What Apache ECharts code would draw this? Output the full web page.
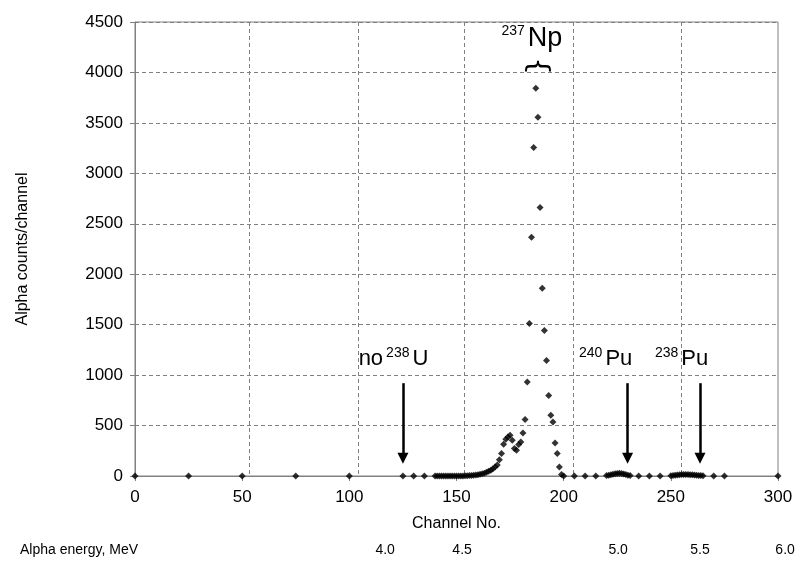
<!DOCTYPE html>
<html lang="en">
<head>
<meta charset="UTF-8">
<title>Alpha spectrum</title>
<script src="https://cdn.jsdelivr.net/npm/echarts@6/dist/echarts.min.js"></script>
<style>
    html, body { margin: 0; padding: 0; background: #fff; }
    #chart { width: 803px; height: 572px; }
</style>
</head>
<body>
<div id="chart"></div>
<script>
    // channel numbers that carry a point, and the counts
    const channels = [
        0, 25, 50, 75, 100, 125, 130, 135,
        140, 141, 142, 143, 144, 145, 146, 147, 148, 149,
        150, 151, 152, 153, 154, 155, 156, 157, 158, 159,
        160, 161, 162, 163, 164, 165, 166, 167, 168, 169,
        170, 171, 172, 173, 174, 175, 176, 177, 178, 179,
        180, 181, 182, 183, 184, 185, 186, 187, 188, 189,
        190, 191, 192, 193, 194, 195, 196, 197, 198, 199, 200,
        205, 210, 215,
        220, 221, 222, 223, 224, 225, 226, 227, 228, 229, 230, 231,
        235, 240, 245,
        250, 251, 252, 253, 254, 255, 256, 257, 258, 259, 260, 261, 262, 263, 264, 265,
        270, 275, 300
    ];
    const counts = [
        0, 0, 0, 0, 0, 0, 0, 0,
        0, 0, 0, 0, 0, 0, 0, 0, 0, 0,
        0, 0, 1, 1, 2, 3, 4, 6, 8, 10,
        13, 17, 22, 28, 36, 46, 58, 72, 88, 110,
        160, 222, 314, 365, 387, 403, 354, 272, 255, 311,
        337, 426, 559, 932, 1511, 2366, 3255, 3843, 3556, 2661,
        1861, 1441, 1144, 797, 602, 535, 327, 222, 89, 15, 0,
        0, 0, 0,
        4, 8, 12, 18, 22, 26, 28, 25, 20, 14, 8, 4,
        0, 0, 0,
        3, 5, 8, 10, 12, 14, 15, 16, 15, 13, 12, 10, 8, 6, 4, 2,
        0, 0, 0
    ];

    // vertical grid lines sit a little right of the channel ticks in the original
    const gridChannels = [53.2, 104, 153.5, 204.4, 254.8];

    // secondary energy scale under the channel axis
    const energyLabels = ['4.0', '4.5', '5.0', '5.5', '6.0'];
    const energyChannels = [116.7, 152.6, 225.4, 263.6, 303.3];

    // arrows: channel, top and bottom (counts)
    const arrowChannels = [125, 229.8, 263.6];
    const arrowTop = 920;
    const arrowEnd = 175;

    // peak labels
    const peakLabels = [
        { text: '{b|no}{g|}{s|238}{g|}{b|U}', ch: 120.6, y: 1167 },
        { text: '{s|240}{g|}{b|Pu}', ch: 219.6, y: 1167 },
        { text: '{s|238}{g|}{b|Pu}', ch: 255, y: 1167 }
    ];
    const npLabel = { text: '{s|237}{g|}{n|Np}', ch: 185.2, y: 4339 };
    const npBrace = { ch: 187.1, y: 4063 };

    const FONT = 'Liberation Sans, Arial, sans-serif';

    const chart = echarts.init(document.getElementById('chart'));

    const points = channels.map((c, i) => [c, counts[i]]);

    chart.setOption({
        animation: false,
        backgroundColor: '#fff',
        grid: {
            left: 135, right: 25, top: 22, bottom: 96,
            show: true, borderColor: '#808080', borderWidth: 1
        },
        xAxis: [{
            type: 'value', min: 0, max: 300, interval: 50,
            name: 'Channel No.', nameLocation: 'middle', nameGap: 40,
            nameTextStyle: { fontFamily: FONT, fontSize: 16, color: '#000' },
            axisLine: { lineStyle: { color: '#808080', width: 1 } },
            axisTick: { show: true, inside: false, length: 5, lineStyle: { color: '#808080' } },
            axisLabel: { fontFamily: FONT, fontSize: 17, color: '#000', margin: 13 },
            splitLine: { show: false }
        }, {
            type: 'value', min: 0, max: 300, position: 'top',
            axisLine: { show: false },
            axisTick: { show: false, customValues: gridChannels },
            axisLabel: { show: false },
            splitLine: { show: true, lineStyle: { color: '#808080', type: [4, 3], width: 1 } }
        }],
        yAxis: {
            type: 'value', min: 0, max: 4500, interval: 500,
            name: 'Alpha counts/channel', nameLocation: 'middle', nameGap: 104,
            nameTextStyle: { fontFamily: FONT, fontSize: 16, color: '#000' },
            axisLine: { show: true, lineStyle: { color: '#808080', width: 1 } },
            axisTick: { show: true, inside: false, length: 5, lineStyle: { color: '#808080' } },
            axisLabel: { fontFamily: FONT, fontSize: 17, color: '#000', margin: 12, formatter: v => String(v) },
            splitLine: { show: true, lineStyle: { color: '#808080', type: [4, 3], width: 1 } }
        },
        series: [{
            type: 'scatter',
            xAxisIndex: 0,
            symbol: 'diamond',
            symbolSize: 7,
            itemStyle: { color: '#000' },
            data: points,
            markLine: {
                silent: true,
                symbol: ['none', 'triangle'],
                symbolSize: 11,
                label: { show: false },
                lineStyle: { color: '#000', width: 2.5, type: 'solid' },
                data: arrowChannels.map(c => [{ coord: [c, arrowTop] }, { coord: [c, arrowEnd] }])
            }
        }]
    });

    // text annotations placed through the chart's own scales
    function px(ch, v) {
        return chart.convertToPixel({ xAxisIndex: 0, yAxisIndex: 0 }, [ch, v]);
    }
    const graphics = [];
    peakLabels.forEach(l => {
        const p = px(l.ch, l.y);
        graphics.push({
            type: 'text', x: p[0], y: p[1],
            style: {
                text: l.text, align: 'center', verticalAlign: 'middle', fill: '#000',
                rich: {
                    b: { fontFamily: FONT, fontSize: 22, lineHeight: 24, verticalAlign: 'bottom' },
                    s: { fontFamily: FONT, fontSize: 14, lineHeight: 24, verticalAlign: 'top' },
                    g: { width: 3 }
                }
            }
        });
    });
    const np = px(npLabel.ch, npLabel.y);
    graphics.push({
        type: 'text', x: np[0], y: np[1],
        style: {
            text: npLabel.text, align: 'center', verticalAlign: 'middle', fill: '#000',
            rich: {
                n: { fontFamily: FONT, fontSize: 27, lineHeight: 28, verticalAlign: 'bottom' },
                s: { fontFamily: FONT, fontSize: 14, lineHeight: 28, verticalAlign: 'top' },
                g: { width: 3 }
            }
        }
    });
    const br = px(npBrace.ch, npBrace.y);
    graphics.push({
        type: 'text', x: br[0], y: br[1], rotation: -Math.PI / 2,
        style: {
            text: '{', align: 'center', verticalAlign: 'middle', fill: '#000',
            fontFamily: 'DejaVu Sans', fontSize: 28, fontWeight: 'normal'
        }
    });
    energyLabels.forEach((t, i) => {
        const p = px(energyChannels[i], 0);
        graphics.push({
            type: 'text', x: p[0], y: 550,
            style: { text: t, align: 'center', verticalAlign: 'middle', fill: '#000', fontFamily: FONT, fontSize: 14 }
        });
    });
    graphics.push({
        type: 'text', x: 20, y: 550,
        style: { text: 'Alpha energy, MeV', align: 'left', verticalAlign: 'middle', fill: '#000', fontFamily: FONT, fontSize: 14 }
    });
    chart.setOption({ graphic: graphics });
</script>
</body>
</html>
